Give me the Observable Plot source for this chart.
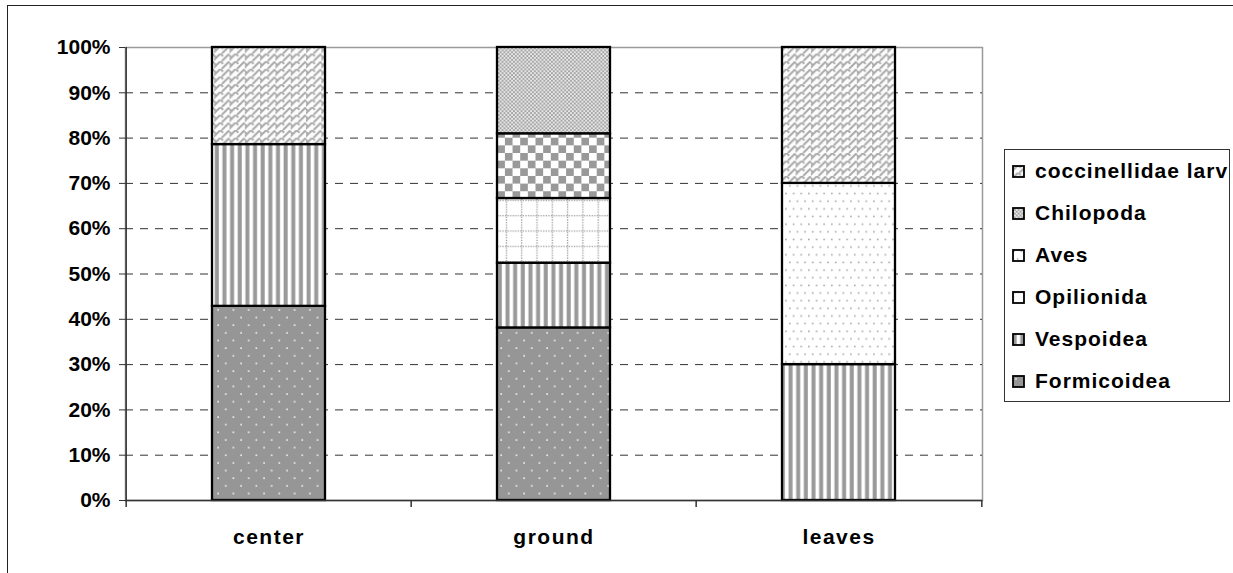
<!DOCTYPE html>
<html>
<head>
<meta charset="utf-8">
<script src="https://cdn.jsdelivr.net/npm/d3@7"></script>
<script src="https://cdn.jsdelivr.net/npm/@observablehq/plot@0.6"></script>
<style>
  html, body { margin: 0; padding: 0; background: #fff; overflow: hidden; }
  #wrap { position: relative; width: 1233px; height: 573px; font-family: "Liberation Sans", Arial, sans-serif; }
  #outer { position: absolute; left: 7px; top: 5px; width: 1300px; height: 700px; border: 1px solid #222; box-sizing: border-box; }
  #chart { position: absolute; left: 0; top: 0; }
  #chart svg g[aria-label="x-axis tick label"] text { letter-spacing: 1.5px; }
  #legend { position: absolute; left: 1004px; top: 149px; width: 226px; height: 253px; border: 1px solid #333; box-sizing: border-box; background: #fff; }
  .row { height: 42px; display: flex; align-items: center; font-weight: bold; font-size: 21px; letter-spacing: 1px; color: #000; }
  .row svg { margin-left: 7px; margin-right: 10px; flex: none; }
</style>
</head>
<body>
<svg width="0" height="0" style="position:absolute">
  <defs>
    <pattern id="p-form" patternUnits="userSpaceOnUse" width="15.3" height="15.3">
      <rect width="15.3" height="15.3" fill="#969696"/>
      <rect x="3.2" y="3.2" width="1.5" height="1.5" fill="#fff"/>
      <rect x="10.85" y="10.85" width="1.5" height="1.5" fill="#fff"/>
    </pattern>
    <pattern id="p-vesp" patternUnits="userSpaceOnUse" width="7.65" height="10">
      <rect width="7.65" height="10" fill="#fff"/>
      <rect x="0.6" width="4" height="10" fill="#999"/>
    </pattern>
    <pattern id="p-opil" patternUnits="userSpaceOnUse" width="15.3" height="15.3">
      <rect width="15.3" height="15.3" fill="#fff"/>
      <line x1="0" y1="1.5" x2="15.3" y2="1.5" stroke="#9a9a9a" stroke-width="1.3" stroke-dasharray="1.3,1.25"/>
      <line x1="1.5" y1="0" x2="1.5" y2="15.3" stroke="#9a9a9a" stroke-width="1.3" stroke-dasharray="1.3,1.25"/>
    </pattern>
    <pattern id="p-aves" patternUnits="userSpaceOnUse" width="7.65" height="15.3">
      <rect width="7.65" height="15.3" fill="#fff"/>
      <rect x="1" y="1.5" width="1.6" height="1.6" fill="#a8a8a8"/>
      <rect x="4.8" y="9.2" width="1.6" height="1.6" fill="#a8a8a8"/>
    </pattern>
    <pattern id="p-check" patternUnits="userSpaceOnUse" width="15.3" height="15.3">
      <rect width="15.3" height="15.3" fill="#fff"/>
      <rect x="0" y="0" width="7.65" height="7.65" fill="#999"/>
      <rect x="7.65" y="7.65" width="7.65" height="7.65" fill="#999"/>
    </pattern>
    <pattern id="p-chil" patternUnits="userSpaceOnUse" width="3.8" height="3.8">
      <rect width="3.8" height="3.8" fill="#e6e6e6"/>
      <rect x="0" y="0" width="1.9" height="1.9" fill="#a6a6a6"/>
      <rect x="1.9" y="1.9" width="1.9" height="1.9" fill="#a6a6a6"/>
    </pattern>
    <pattern id="p-cocc" patternUnits="userSpaceOnUse" width="15.3" height="7.65">
      <rect width="15.3" height="7.65" fill="#fcfcfc"/>
      <path d="M-1,7.2 L6.2,0 M6.2,0 L8.8,2.6 M7.6,7.65 L14.8,0.45 M14.8,0.45 L17.4,3.05 M-0.5,1.6 L1.5,3.6"
            stroke="#aaaaaa" stroke-width="2" fill="none"/>
    </pattern>
  </defs>
</svg>

<div id="wrap">
  <div id="outer"></div>
  <div id="chart"></div>
  <div id="legend"></div>
</div>

<script>
// ---- data ----
const sites = ["center", "ground", "leaves"];
// stacking order, bottom to top
const taxa = ["Formicoidea", "Vespoidea", "Opilionida", "Aves", "(unlisted)", "Chilopoda", "coccinellidae larv"];
const formicoidea = [6, 8, 0];
const vespoidea   = [5, 3, 3];
const opilionida  = [0, 3, 0];
const aves        = [0, 0, 4];
const unlisted    = [0, 3, 0];
const chilopoda   = [0, 4, 0];
const coccinellidae = [3, 0, 3];
const legendTaxa = ["coccinellidae larv", "Chilopoda", "Aves", "Opilionida", "Vespoidea", "Formicoidea"];
const yTicks = [0, 0.1, 0.2, 0.3, 0.4, 0.5, 0.6, 0.7, 0.8, 0.9, 1];
const gridTicks = [0.1, 0.2, 0.3, 0.4, 0.5, 0.6, 0.7, 0.8, 0.9];

const patterns = ["url(#p-form)", "url(#p-vesp)", "url(#p-opil)", "url(#p-aves)", "url(#p-check)", "url(#p-chil)", "url(#p-cocc)"];

const series = [formicoidea, vespoidea, opilionida, aves, unlisted, chilopoda, coccinellidae];
const data = [];
taxa.forEach((t, i) => sites.forEach((s, j) => {
  if (series[i][j] > 0) data.push({site: s, taxon: t, count: series[i][j]});
}));

// ---- layout ----
const W = 1000, H = 560, ML = 125, MR = 18, MT = 47, MB = 60;
const step = (W - ML - MR) / sites.length;
const tickLen = 7 / (H - MT - MB);

const chart = Plot.plot({
  width: W, height: H,
  marginLeft: ML, marginRight: MR, marginTop: MT, marginBottom: MB,
  style: {fontFamily: "Liberation Sans, Arial, sans-serif", fontSize: "21px", fontWeight: "bold", background: "transparent", color: "#000", overflow: "visible"},
  x: {domain: sites, paddingInner: 0.605, paddingOuter: 0.3025, label: null},
  y: {domain: [0, 1], label: null},
  color: {type: "ordinal", domain: taxa, range: patterns},
  marks: [
    Plot.frame({stroke: "#9a9a9a", strokeWidth: 1.5}),
    Plot.ruleY(gridTicks, {stroke: "#333", strokeWidth: 1, strokeDasharray: "8,7"}),
    Plot.barY(data, Plot.stackY({x: "site", y: "count", fill: "taxon", z: "taxon", offset: "normalize", order: taxa, stroke: "#000", strokeWidth: 2.3})),
    Plot.ruleY([0], {stroke: "#333", strokeWidth: 1.5}),
    Plot.ruleX([sites[0]], {y1: 0, y2: 1, dx: -step / 2, stroke: "#333", strokeWidth: 1.5}),
    Plot.ruleX(sites, {y1: 0, y2: -tickLen, dx: -step / 2, stroke: "#333", strokeWidth: 1.5}),
    Plot.ruleX([sites[sites.length - 1]], {y1: 0, y2: -tickLen, dx: step / 2, stroke: "#333", strokeWidth: 1.5}),
    Plot.axisY({ticks: yTicks, tickFormat: d3.format(".0%"), tickSize: 6, tickPadding: 9, fontSize: 21, fontWeight: "bold", stroke: "#333"}),
    Plot.axisX({tickSize: 0, tickPadding: 29, fontSize: 21, fontWeight: "bold"})
  ]
});
document.getElementById("chart").appendChild(chart);

// ---- legend ----
const legend = document.getElementById("legend");
legendTaxa.forEach(t => {
  const row = document.createElement("div");
  row.className = "row";
  const fill = patterns[taxa.indexOf(t)];
  row.innerHTML = `<svg width="13" height="13"><rect x="1" y="1" width="11" height="11" fill="${fill}" stroke="#000" stroke-width="1.8"/></svg><span>${t}</span>`;
  legend.appendChild(row);
});
</script>
</body>
</html>
